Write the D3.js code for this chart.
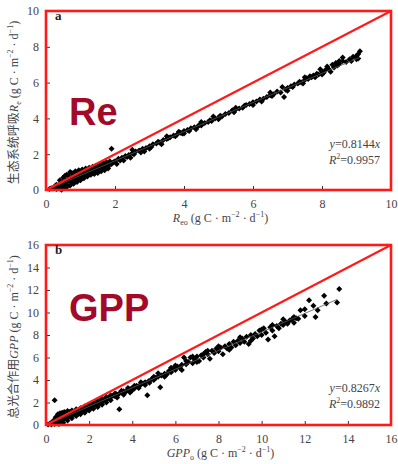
<!DOCTYPE html>
<html>
<head>
<meta charset="utf-8">
<script src="https://cdn.jsdelivr.net/npm/d3@7"></script>
<style>
  html, body { margin: 0; padding: 0; background: #fff; }
  svg { display: block; }
  .tick text { font-family: "Liberation Serif", "DejaVu Serif", serif; font-size: 12px; fill: #444; }
  .tick line { stroke: #333; }
  .domain { stroke: #333; }
</style>
</head>
<body>
<svg id="chart" width="398" height="464"></svg>
<script>
// ---- Panel a: ecosystem respiration, observed vs modelled ----
const reTicks = [0, 2, 4, 6, 8, 10];
const reDomain = [0, 10];
const reSlope = 0.8144;
const reR2 = "0.9957";
const reFitMaxX = 9.1;
const rePoints = [
  [0.1,0.05],[0.15,0.1],[0.2,0.08],[0.25,0.2],[0.3,0.15],[0.3,0.3],[0.35,0.22],[0.4,0.1],[0.4,0.35],[0.4,0.55],
  [0.45,0.28],[0.45,0.02],[0.5,0.45],[0.5,0.2],[0.5,0.7],[0.55,0.38],[0.55,0.6],[0.6,0.42],[0.6,0.3],[0.6,0.85],
  [0.65,0.55],[0.65,0.78],[0.7,0.5],[0.7,0.62],[0.7,1.0],[0.75,0.45],[0.75,0.7],[0.8,0.58],[0.8,0.9],[0.85,0.66],
  [0.85,0.52],[0.9,0.75],[0.9,0.95],[0.95,0.62],[0.95,0.8],[1.0,0.72],[1.0,1.0],[1.05,0.85],[1.05,0.7],[1.1,0.92],
  [1.1,1.05],[1.15,0.8],[1.15,0.95],[1.2,1.0],[1.2,0.88],[1.25,1.08],[1.25,0.95],[1.3,1.02],[1.3,1.15],[1.35,1.1],
  [1.35,0.98],[1.4,1.2],[1.4,1.05],[1.45,1.15],[1.5,1.22],[1.5,1.1],[1.55,1.3],[1.6,1.2],[1.6,1.35],[1.65,1.28],
  [1.7,1.4],[1.7,1.25],[1.75,1.38],[1.8,1.45],[1.8,1.3],[1.85,1.5],[1.9,2.3],[1.9,1.45],[1.95,1.55],[2.0,1.6],
  [0.3,0.05],[0.5,0.1],[0.6,0.15],[0.7,0.25],[0.8,0.35],[0.9,0.45],[1.0,0.55],[1.1,0.65],[1.2,0.75],[1.3,0.85],
  [1.4,0.9],[1.5,0.95],[1.6,1.05],[1.7,1.1],[1.8,1.2],[0.55,0.8],[0.75,0.95],[0.85,1.05],[0.95,1.1],[1.05,1.15],
  [1.15,1.2],[1.25,1.25],[1.35,1.3],[1.45,1.35],[1.55,1.42],[1.65,1.5],[1.75,1.55],[1.85,1.6],[2.05,1.45],[2.25,1.65],
  [2.1,1.75],[2.15,1.65],[2.2,1.8],[2.3,1.9],[2.35,1.85],[2.4,1.95],[2.5,2.05],[2.55,2.0],[2.6,2.15],[2.7,2.2],
  [2.75,2.1],[2.8,2.3],[2.9,2.35],[3.0,2.45],[3.05,2.4],[3.1,2.55],[3.2,2.6],[3.25,2.7],[3.3,2.65],[3.4,2.8],
  [2.5,2.25],[3.0,2.3],[3.5,3.0],[4.0,3.15],[4.5,3.8],[5.0,3.95],[5.5,4.6],[6.0,4.75],[6.5,5.45],[7.0,5.55],
  [7.5,6.3],[8.0,6.45],[8.5,7.2],[9.0,7.3],[2.45,1.8],[2.85,2.15],[3.35,2.55],[3.85,3.25],[4.35,3.4],[4.85,4.1],
  [3.5,2.85],[3.55,2.9],[3.6,2.95],[3.7,3.05],[3.75,3.0],[3.8,3.1],[3.9,3.2],[3.95,3.15],[4.0,3.3],[4.1,3.35],
  [4.15,3.3],[4.2,3.45],[4.3,3.5],[4.4,3.55],[4.45,3.65],[4.5,3.6],[4.6,3.75],[4.7,3.8],[4.75,3.9],[4.8,3.85],
  [4.9,4.0],[5.0,4.05],[5.05,4.15],[5.1,4.1],[5.2,4.25],[5.3,4.3],[5.4,4.45],[5.45,4.35],[5.5,4.5],[5.6,4.55],
  [5.7,4.6],[5.75,4.7],[5.8,4.75],[5.9,4.8],[6.0,4.9],[6.1,4.95],[6.2,5.05],[6.25,4.95],[6.3,5.1],[6.4,5.2],
  [6.5,5.3],[6.55,5.25],[6.6,5.35],[6.7,5.5],[6.8,5.45],[6.85,5.75],[6.9,5.2],[6.95,5.6],[7.0,5.7],[7.1,5.8],
  [7.15,5.75],[7.2,5.9],[7.3,5.95],[7.35,6.05],[7.4,6.0],[7.5,6.15],[7.55,6.25],[7.6,6.2],[7.65,6.35],[7.7,6.3],
  [7.75,6.4],[7.8,6.3],[7.85,6.5],[7.9,6.45],[8.0,6.6],[8.05,6.55],[8.1,6.7],[8.15,6.9],[8.2,6.75],[8.25,6.6],
  [8.3,7.0],[8.35,6.85],[8.4,7.1],[8.5,7.05],[8.6,7.2],[8.7,7.15],[8.8,7.3],[8.85,7.2],[8.9,7.45],[9.0,7.5],
  [9.05,7.6],[9.1,7.75],[9.05,7.35],[8.6,7.4],[8.45,6.95],[7.95,6.75],[7.45,5.95]
];

// ---- Panel b: gross primary productivity, observed vs modelled ----
const gppTicks = [0, 2, 4, 6, 8, 10, 12, 14, 16];
const gppDomain = [0, 16];
const gppSlope = 0.8267;
const gppR2 = "0.9892";
const gppFitMaxX = 13.5;
const gppPoints = [
  [0.1,0.05],[0.2,0.15],[0.25,0.05],[0.3,0.25],[0.35,0.4],[0.4,0.1],[0.4,2.2],[0.45,0.35],[0.5,0.6],[0.5,0.2],
  [0.55,0.45],[0.6,0.8],[0.6,0.3],[0.65,0.55],[0.7,0.95],[0.7,0.4],[0.75,0.65],[0.8,1.0],[0.8,0.5],[0.85,0.75],
  [0.9,1.05],[0.9,0.6],[0.95,0.85],[1.0,0.7],[1.0,1.1],[1.05,0.9],[1.1,0.8],[1.1,1.15],[1.15,0.95],[1.2,1.05],
  [1.2,0.85],[1.25,1.2],[1.3,1.0],[1.3,1.1],[1.35,0.95],[1.4,1.2],[1.45,1.1],[1.5,1.25],[1.5,1.0],[1.55,1.3],
  [1.6,1.15],[1.65,1.35],[1.7,1.25],[1.75,1.45],[1.8,1.4],[1.85,1.3],[1.9,1.55],[1.95,1.45],[2.0,1.65],[2.05,1.5],
  [0.6,0.1],[0.8,0.2],[1.0,0.4],[1.2,0.6],[1.4,0.8],[1.6,0.95],[1.8,1.1],[2.0,1.3],[2.2,1.45],[2.4,1.6],
  [2.6,1.8],[2.8,2.0],[3.0,2.2],[0.45,0.7],[0.55,0.95],[0.65,1.05],[0.75,1.1],[0.85,1.15],[1.0,1.25],[1.2,1.3],
  [1.4,1.4],[1.6,1.5],[1.8,1.65],[2.0,1.8],[2.2,1.95],[2.4,2.15],[2.6,2.35],[2.8,2.5],[3.0,2.65],[3.2,2.8],
  [3.5,3.05],[3.8,3.3],[4.1,3.5],[4.4,3.8],[4.0,3.1],[4.3,3.3],[4.6,3.55],[5.0,4.3],[5.5,4.3],[6.0,5.3],
  [6.5,5.7],[7.0,5.6],[7.5,6.6],[8.0,7.0],[8.5,6.7],[9.0,7.8],[9.5,7.5],[10.0,8.5],[10.5,8.9],[11.0,9.4],
  [11.5,9.1],[12.0,9.7],[3.3,2.45],[3.6,2.7],[3.9,2.9],[5.2,4.6],[5.8,5.1],[6.3,4.9],[6.8,6.1],[7.3,6.3],
  [2.1,1.7],[2.15,1.6],[2.2,1.8],[2.25,1.75],[2.3,1.9],[2.35,1.8],[2.4,2.0],[2.45,1.9],[2.5,2.1],[2.55,2.0],
  [2.6,2.2],[2.65,2.1],[2.7,2.3],[2.75,2.2],[2.8,2.35],[2.9,2.4],[2.95,2.3],[3.0,2.5],[3.1,2.6],[3.2,2.55],
  [3.25,2.75],[3.3,2.7],[3.4,1.4],[3.4,2.8],[3.5,2.9],[3.6,3.0],[3.7,2.95],[3.8,3.1],[3.9,3.2],[4.0,3.3],
  [4.1,3.25],[4.2,3.5],[4.3,3.45],[4.4,3.6],[4.5,3.7],[4.6,3.8],[4.7,2.65],[4.75,3.9],[4.8,3.75],[4.9,4.1],
  [5.0,4.0],[5.1,4.2],[5.2,4.3],[5.3,3.35],[5.35,4.4],[5.5,4.55],[5.6,4.5],[5.7,4.8],[5.8,4.7],[5.9,5.0],
  [6.0,4.9],[6.1,5.2],[6.2,5.1],[6.3,5.35],[6.4,6.0],[6.5,5.4],[6.6,5.6],[6.7,6.0],[6.8,5.5],[6.9,5.8],
  [7.0,6.1],[7.1,5.7],[7.2,6.2],[7.3,6.0],[7.4,6.5],[7.5,6.3],[7.6,5.9],[7.7,6.6],[7.8,6.4],[7.9,6.8],
  [8.0,6.55],[8.1,6.9],[8.2,6.3],[8.3,7.0],[8.4,6.8],[8.5,7.2],[8.6,6.9],[8.7,7.4],[8.8,7.1],[8.9,7.5],
  [9.0,7.3],[9.1,7.7],[9.2,7.4],[9.3,7.85],[9.4,7.2],[9.5,8.0],[9.6,7.7],[9.7,8.1],[9.8,7.9],[9.9,8.4],
  [10.0,8.0],[10.1,8.6],[10.2,8.2],[10.3,7.6],[10.4,8.7],[10.5,8.4],[10.6,7.9],[10.7,8.8],[10.8,8.6],[10.9,9.0],
  [11.0,8.9],[11.1,9.2],[11.2,9.0],[11.3,9.3],[11.4,9.4],[11.5,9.6],[11.6,9.5],[11.7,9.45],[11.8,10.2],[12.0,10.3],
  [12.2,11.1],[12.4,10.6],[12.5,9.6],[12.6,10.2],[12.9,11.5],[13.0,10.8],[13.6,12.1],[13.5,10.9]
];

const svg = d3.select("#chart");
const red = "#ff1a1a";
const serif = "'Liberation Serif', 'DejaVu Serif', serif";

function panel(cfg) {
  const x = d3.scaleLinear().domain(cfg.domain).range([cfg.left, cfg.right]);
  const y = d3.scaleLinear().domain(cfg.domain).range([cfg.bottom, cfg.top]);
  const g = svg.append("g");

  // axes with inward ticks
  g.append("g")
    .attr("transform", `translate(0,${cfg.bottom})`)
    .call(d3.axisBottom(x).tickValues(cfg.ticks).tickSizeInner(-4).tickSizeOuter(0).tickPadding(9).tickFormat(d3.format("d")));
  g.append("g")
    .attr("transform", `translate(${cfg.left},0)`)
    .call(d3.axisLeft(y).tickValues(cfg.ticks).tickSizeInner(-4).tickSizeOuter(0).tickPadding(7).tickFormat(d3.format("d")));

  // data points (small diamonds)
  const sym = d3.symbol().type(d3.symbolSquare).size(18);
  g.append("g").selectAll("path")
    .data(cfg.points)
    .join("path")
    .attr("d", sym)
    .attr("transform", d => `translate(${x(d[0])},${y(d[1])}) rotate(45)`)
    .attr("fill", "#000");

  // regression line through origin
  g.append("line")
    .attr("x1", x(0)).attr("y1", y(0))
    .attr("x2", x(cfg.fitMaxX)).attr("y2", y(cfg.slope * cfg.fitMaxX))
    .attr("stroke", "#555").attr("stroke-width", 0.8);

  // frame and 1:1 line in red
  g.append("rect")
    .attr("x", x(cfg.domain[0])).attr("y", y(cfg.domain[1]))
    .attr("width", x(cfg.domain[1]) - x(cfg.domain[0]))
    .attr("height", y(cfg.domain[0]) - y(cfg.domain[1]))
    .attr("fill", "none").attr("stroke", red).attr("stroke-width", 2.6);
  g.append("line")
    .attr("x1", x(cfg.domain[0])).attr("y1", y(cfg.domain[0]))
    .attr("x2", x(cfg.domain[1])).attr("y2", y(cfg.domain[1]))
    .attr("stroke", red).attr("stroke-width", 2.2);

  // panel letter
  g.append("text")
    .attr("x", cfg.left + 9).attr("y", cfg.top + 9)
    .attr("font-family", serif).attr("font-weight", "bold").attr("font-size", 13)
    .attr("fill", "#222").text(cfg.letter);

  // big variable name
  g.append("text")
    .attr("x", cfg.left + 23).attr("y", cfg.bigY)
    .attr("font-family", "'Liberation Sans', Arial, sans-serif").attr("font-weight", "bold")
    .attr("font-size", 38).attr("fill", "#a3092a").text(cfg.big);

  // regression statistics
  const eq = g.append("text")
    .attr("x", cfg.right - 11).attr("y", cfg.eqY)
    .attr("text-anchor", "end").attr("font-family", serif).attr("font-size", 12).attr("fill", "#444");
  eq.append("tspan").attr("font-style", "italic").text("y");
  eq.append("tspan").text("=" + cfg.slope.toFixed(4));
  eq.append("tspan").attr("font-style", "italic").text("x");
  const r2 = g.append("text")
    .attr("x", cfg.right - 11).attr("y", cfg.eqY + 16)
    .attr("text-anchor", "end").attr("font-family", serif).attr("font-size", 12).attr("fill", "#444");
  r2.append("tspan").attr("font-style", "italic").text("R");
  r2.append("tspan").attr("font-size", 8).attr("dy", -5).text("2");
  r2.append("tspan").attr("dy", 5).text("=" + cfg.r2);

  // x axis title
  const xt = g.append("text")
    .attr("x", (cfg.left + cfg.right) / 2 + 2).attr("y", cfg.bottom + 32)
    .attr("text-anchor", "middle").attr("font-family", serif).attr("font-size", 12).attr("fill", "#444");
  xt.append("tspan").attr("font-style", "italic").text(cfg.xVar);
  xt.append("tspan").attr("font-size", 8).attr("dy", 3).text(cfg.xSub);
  xt.append("tspan").attr("dy", -3).text(" (g C · m");
  xt.append("tspan").attr("font-size", 8).attr("dy", -5).text("−2");
  xt.append("tspan").attr("dy", 5).text(" · d");
  xt.append("tspan").attr("font-size", 8).attr("dy", -5).text("−1");
  xt.append("tspan").attr("dy", 5).text(")");

  // y axis title
  const yt = g.append("text")
    .attr("transform", `translate(18,${(cfg.top + cfg.bottom) / 2 + 2}) rotate(-90)`)
    .attr("text-anchor", "middle").attr("font-family", "'Noto Sans CJK SC', " + serif)
    .attr("font-size", 12).attr("fill", "#444");
  yt.append("tspan").text(cfg.yCn);
  yt.append("tspan").attr("font-family", serif).attr("font-style", "italic").text(cfg.yVar);
  if (cfg.ySub) yt.append("tspan").attr("font-family", serif).attr("font-size", 8).attr("dy", 3).text(cfg.ySub);
  yt.append("tspan").attr("font-family", serif).attr("dy", cfg.ySub ? -3 : 0).text(" (g C · m");
  yt.append("tspan").attr("font-family", serif).attr("font-size", 8).attr("dy", -5).text("−2");
  yt.append("tspan").attr("font-family", serif).attr("dy", 5).text(" · d");
  yt.append("tspan").attr("font-family", serif).attr("font-size", 8).attr("dy", -5).text("−1");
  yt.append("tspan").attr("font-family", serif).attr("dy", 5).text(")");
}

panel({
  domain: reDomain, ticks: reTicks, points: rePoints, slope: reSlope, r2: reR2, fitMaxX: reFitMaxX,
  left: 46, right: 391, top: 11, bottom: 190,
  letter: "a", big: "Re", bigY: 125, eqY: 148,
  xVar: "R", xSub: "eo", yCn: "生态系统呼吸", yVar: "R", ySub: "e"
});

panel({
  domain: gppDomain, ticks: gppTicks, points: gppPoints, slope: gppSlope, r2: gppR2, fitMaxX: gppFitMaxX,
  left: 46, right: 391, top: 245, bottom: 425,
  letter: "b", big: "GPP", bigY: 321, eqY: 392,
  xVar: "GPP", xSub: "o", yCn: "总光合作用", yVar: "GPP", ySub: ""
});
</script>
</body>
</html>
